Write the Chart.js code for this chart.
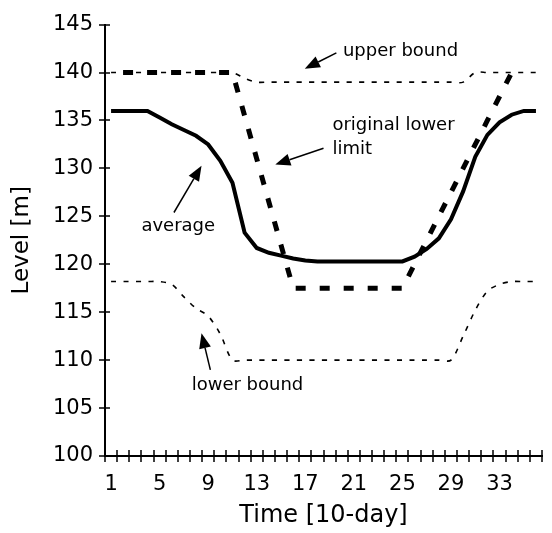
<!DOCTYPE html>
<html>
<head>
<meta charset="utf-8">
<script src="https://cdn.jsdelivr.net/npm/chart.js@4.4.1/dist/chart.umd.min.js"></script>
<style>
  html, body { margin: 0; padding: 0; background: #fff; }
  canvas { display: block; }
</style>
</head>
<body>
<canvas id="levelChart" width="552" height="533"></canvas>
<script>
// 10-day periods
const periods = ['1', '2', '3', '4', '5', '6', '7', '8', '9', '10', '11', '12',
    '13', '14', '15', '16', '17', '18', '19', '20', '21', '22', '23', '24',
    '25', '26', '27', '28', '29', '30', '31', '32', '33', '34', '35', '36'];
const shownPeriods = ['1', '5', '9', '13', '17', '21', '25', '29', '33'];
const levelTicks = [100, 105, 110, 115, 120, 125, 130, 135, 140, 145];

const averageLevel = [136, 136, 136, 136, 135.3, 134.6, 134, 133.4, 132.5, 130.8, 128.5, 123.3,
    121.7, 121.2, 120.9, 120.6, 120.4, 120.3, 120.3, 120.3, 120.3, 120.3, 120.3, 120.3,
    120.3, 120.8, 121.6, 122.7, 124.7, 127.6, 131.2, 133.5, 134.8, 135.6, 136, 136];
const originalLowerLimit = [140, 140, 140, 140, 140, 140, 140, 140, 140, 140, 140, 135.5,
    131, 126.5, 122, 117.5, 117.5, 117.5, 117.5, 117.5, 117.5, 117.5, 117.5, 117.5,
    117.5, 120, 122.5, 125, 127.5, 130, 132.5, 135, 137.5, 140, null, null];
const upperBound = [140, 140, 140, 140, 140, 140, 140, 140, 140, 140, 140, 139.4,
    139, 139, 139, 139, 139, 139, 139, 139, 139, 139, 139, 139,
    139, 139, 139, 139, 139, 139, 140, 140, 140, 140, 140, 140];
const lowerBound = [118.2, 118.2, 118.2, 118.2, 118.2, 117.9, 116.6, 115.4, 114.6, 112.7, 110, 110,
    110, 110, 110, 110, 110, 110, 110, 110, 110, 110, 110, 110,
    110, 110, 110, 110, 110, 112.5, 115.2, 117.2, 117.9, 118.2, 118.2, 118.2];

// text notes with arrows, placed in data space (period index, level)
const notes = [
    { lines: ['upper bound'], at: [19.1, 142.25], from: [18.56, 142.05], to: [15.96, 140.4] },
    { lines: ['original lower', 'limit'], at: [18.23, 134.5], from: [17.5, 132.1], to: [13.53, 130.4] },
    { lines: ['average'], at: [2.5, 124.0], from: [5.18, 125.4], to: [7.45, 130.27] },
    { lines: ['lower bound'], at: [6.64, 107.33], from: [8.18, 108.99], to: [7.45, 112.8] }
];

Chart.defaults.font.family = "'DejaVu Sans', Verdana, sans-serif";
Chart.defaults.color = '#000';

// tick marks that cross the axis lines
const crossTicks = {
    id: 'crossTicks',
    afterDraw(chart) {
        const ctx = chart.ctx;
        const x = chart.scales.x;
        const y = chart.scales.y;
        const area = chart.chartArea;
        ctx.save();
        ctx.strokeStyle = '#000';
        ctx.lineWidth = 1.5;
        ctx.beginPath();
        y.ticks.forEach(t => {
            const py = Math.round(y.getPixelForValue(t.value));
            ctx.moveTo(area.left - 6, py);
            ctx.lineTo(area.left + 5, py);
        });
        for (let i = 0; i <= periods.length; i++) {
            const px = Math.round(x.getPixelForValue(i - 0.5));
            ctx.moveTo(px, area.bottom - 6);
            ctx.lineTo(px, area.bottom + 6);
        }
        ctx.stroke();
        ctx.restore();
    }
};

const arrowNotes = {
    id: 'arrowNotes',
    afterDraw(chart) {
        const ctx = chart.ctx;
        const x = chart.scales.x;
        const y = chart.scales.y;
        ctx.save();
        ctx.fillStyle = '#000';
        ctx.strokeStyle = '#000';
        ctx.font = "18px 'DejaVu Sans', Verdana, sans-serif";
        ctx.textAlign = 'left';
        ctx.textBaseline = 'middle';
        notes.forEach(n => {
            const tx = x.getPixelForValue(n.at[0]);
            const ty = y.getPixelForValue(n.at[1]);
            n.lines.forEach((line, k) => ctx.fillText(line, tx, ty + k * 24.5));

            const x0 = x.getPixelForValue(n.from[0]);
            const y0 = y.getPixelForValue(n.from[1]);
            const x1 = x.getPixelForValue(n.to[0]);
            const y1 = y.getPixelForValue(n.to[1]);
            const ang = Math.atan2(y1 - y0, x1 - x0);
            const headLen = 15;
            const headHalf = 6;
            const bx = x1 - headLen * Math.cos(ang);
            const by = y1 - headLen * Math.sin(ang);
            ctx.lineWidth = 1.5;
            ctx.beginPath();
            ctx.moveTo(x0, y0);
            ctx.lineTo(bx, by);
            ctx.stroke();
            ctx.beginPath();
            ctx.moveTo(x1, y1);
            ctx.lineTo(bx + headHalf * Math.sin(ang), by - headHalf * Math.cos(ang));
            ctx.lineTo(bx - headHalf * Math.sin(ang), by + headHalf * Math.cos(ang));
            ctx.closePath();
            ctx.fill();
        });
        ctx.restore();
    }
};

new Chart(document.getElementById('levelChart'), {
    type: 'line',
    data: {
        labels: periods,
        datasets: [
            {
                label: 'average',
                data: averageLevel,
                borderColor: '#000',
                borderWidth: 4,
                pointRadius: 0,
                tension: 0,
                fill: false
            },
            {
                label: 'original lower limit',
                data: originalLowerLimit,
                borderColor: '#000',
                borderWidth: 5,
                borderDash: [10, 14],
                borderDashOffset: 12,
                borderCapStyle: 'butt',
                pointRadius: 0,
                tension: 0,
                fill: false
            },
            {
                label: 'upper bound',
                data: upperBound,
                borderColor: '#000',
                borderWidth: 1.6,
                borderDash: [5, 7.5],
                pointRadius: 0,
                tension: 0.3,
                fill: false
            },
            {
                label: 'lower bound',
                data: lowerBound,
                borderColor: '#000',
                borderWidth: 1.6,
                borderDash: [5, 7.5],
                pointRadius: 0,
                tension: 0.3,
                fill: false
            }
        ]
    },
    options: {
        responsive: false,
        animation: false,
        devicePixelRatio: 1,
        layout: { padding: { top: 20, left: 0, right: 3, bottom: 0 } },
        plugins: {
            legend: { display: false },
            tooltip: { enabled: false }
        },
        scales: {
            x: {
                type: 'category',
                offset: true,
                grid: { display: false, drawTicks: false },
                border: { display: true, color: '#000', width: 2 },
                ticks: {
                    autoSkip: false,
                    maxRotation: 0,
                    padding: 16,
                    font: { size: 21 },
                    callback: (val, idx) => shownPeriods.includes(periods[idx]) ? periods[idx] : ''
                },
                title: {
                    display: true,
                    text: 'Time [10-day]',
                    font: { size: 24 },
                    padding: { top: 0, bottom: 3 }
                },
                afterFit: (scale) => { scale.height = 77; }
            },
            y: {
                min: 100,
                max: 145,
                afterBuildTicks: (scale) => { scale.ticks = levelTicks.map(v => ({ value: v })); },
                grid: { display: false, drawTicks: false },
                border: { display: true, color: '#000', width: 2 },
                ticks: {
                    padding: 12,
                    font: { size: 21 }
                },
                title: {
                    display: true,
                    text: 'Level [m]',
                    font: { size: 23 },
                    padding: { top: 8, bottom: 0 }
                },
                afterFit: (scale) => { scale.width = 105; }
            }
        }
    },
    plugins: [crossTicks, arrowNotes]
});
</script>
</body>
</html>
